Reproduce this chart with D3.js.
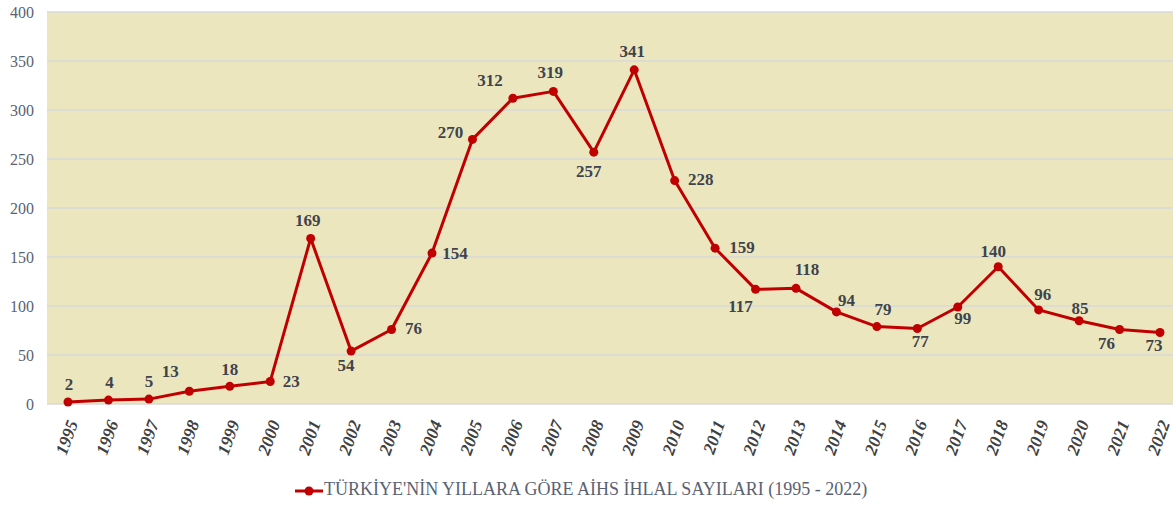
<!DOCTYPE html>
<html>
<head>
<meta charset="utf-8">
<script src="https://cdn.jsdelivr.net/npm/d3@7"></script>
<style>
  body { margin: 0; background: #fff; }
  svg { display: block; }
</style>
</head>
<body>
<div id="chart"></div>
<script>
// data
const years = [1995, 1996, 1997, 1998, 1999, 2000, 2001, 2002, 2003, 2004, 2005, 2006, 2007, 2008,
  2009, 2010, 2011, 2012, 2013, 2014, 2015, 2016, 2017, 2018, 2019, 2020, 2021, 2022];
const violations = [2, 4, 5, 13, 18, 23, 169, 54, 76, 154, 270, 312, 319, 257,
  341, 228, 159, 117, 118, 94, 79, 77, 99, 140, 96, 85, 76, 73];
const yTicks = [0, 50, 100, 150, 200, 250, 300, 350, 400];
const seriesName = "TÜRKİYE'NİN YILLARA GÖRE AİHS İHLAL SAYILARI (1995 - 2022)";

// label offsets from each point (placement only)
const labelOffsets = [
  [1, -16], [1, -16], [0, -16], [-19, -18], [0, -15], [21, 2], [-3, -16], [-5, 16],
  [22, 1], [23, 2], [-22, -5], [-23, -16], [-3, -17], [-5, 21], [-2, -17], [26, 1],
  [27, 1], [-15, 19], [11, -17], [10, -10], [6, -15], [3, 15], [5, 13], [-5, -14],
  [4, -14], [1, -11], [-13, 16], [-6, 15]
];

const serif = "Liberation Serif";
const width = 1173, height = 506;
const svg = d3.select("#chart").append("svg")
  .attr("width", width)
  .attr("height", height);

const plot = { left: 47, right: 1173, top: 12, bottom: 404 };

const x = d3.scalePoint()
  .domain(years)
  .range([68, 1160]);

const y = d3.scaleLinear()
  .domain([0, 400])
  .range([plot.bottom, plot.top]);

// background
svg.append("rect")
  .attr("x", plot.left)
  .attr("y", plot.top)
  .attr("width", plot.right - plot.left)
  .attr("height", plot.bottom - plot.top)
  .attr("fill", "#ece6bf");

// gridlines
svg.append("g")
  .selectAll("line")
  .data(yTicks)
  .join("line")
  .attr("x1", plot.left)
  .attr("x2", plot.right)
  .attr("y1", d => y(d))
  .attr("y2", d => y(d))
  .attr("stroke", "#d9d9d9")
  .attr("stroke-width", 1.5);

// y axis labels
const yAxis = svg.append("g")
  .attr("transform", `translate(${plot.left - 13},0)`)
  .call(d3.axisLeft(y).tickValues(yTicks).tickSize(0).tickPadding(0))
  .attr("font-family", serif)
  .attr("font-size", 16);
yAxis.select(".domain").remove();
yAxis.selectAll("text")
  .attr("fill", "#5a6272");

// x axis labels
const xAxis = svg.append("g")
  .attr("transform", `translate(0,${plot.bottom})`)
  .call(d3.axisBottom(x).tickSize(0).tickPadding(0))
  .attr("font-family", serif)
  .attr("font-size", 17.5);
xAxis.select(".domain").remove();
xAxis.selectAll("text")
  .attr("font-weight", "bold")
  .attr("font-style", "italic")
  .attr("fill", "#404040")
  .attr("text-anchor", "end")
  .attr("dy", "0.35em")
  .attr("y", null)
  .attr("transform", "translate(4,17) rotate(-70)");

// line
const line = d3.line()
  .x((d, i) => x(years[i]))
  .y(d => y(d));

svg.append("path")
  .datum(violations)
  .attr("d", line)
  .attr("fill", "none")
  .attr("stroke", "#c00000")
  .attr("stroke-width", 3)
  .attr("stroke-linejoin", "round");

svg.append("g")
  .selectAll("circle")
  .data(violations)
  .join("circle")
  .attr("cx", (d, i) => x(years[i]))
  .attr("cy", d => y(d))
  .attr("r", 4.5)
  .attr("fill", "#c00000");

// data labels
svg.append("g")
  .attr("font-family", serif)
  .selectAll("text")
  .data(violations)
  .join("text")
  .attr("x", (d, i) => x(years[i]) + labelOffsets[i][0])
  .attr("y", (d, i) => y(d) + labelOffsets[i][1])
  .attr("text-anchor", "middle")
  .attr("dominant-baseline", "middle")
  .attr("font-size", 17)
  .attr("font-weight", "bold")
  .attr("fill", "#3f434c")
  .text(d => d);

// legend
const legend = svg.append("g").attr("transform", "translate(295,491)");
legend.append("line")
  .attr("x1", 0).attr("x2", 28)
  .attr("y1", 0).attr("y2", 0)
  .attr("stroke", "#c00000")
  .attr("stroke-width", 3);
legend.append("circle")
  .attr("cx", 14).attr("cy", 0).attr("r", 4.5)
  .attr("fill", "#c00000");
legend.append("text")
  .attr("x", 29)
  .attr("y", 0)
  .attr("dominant-baseline", "middle")
  .attr("font-family", serif)
  .attr("font-size", 18)
  .attr("fill", "#596273")
  .text(seriesName);
</script>
</body>
</html>
